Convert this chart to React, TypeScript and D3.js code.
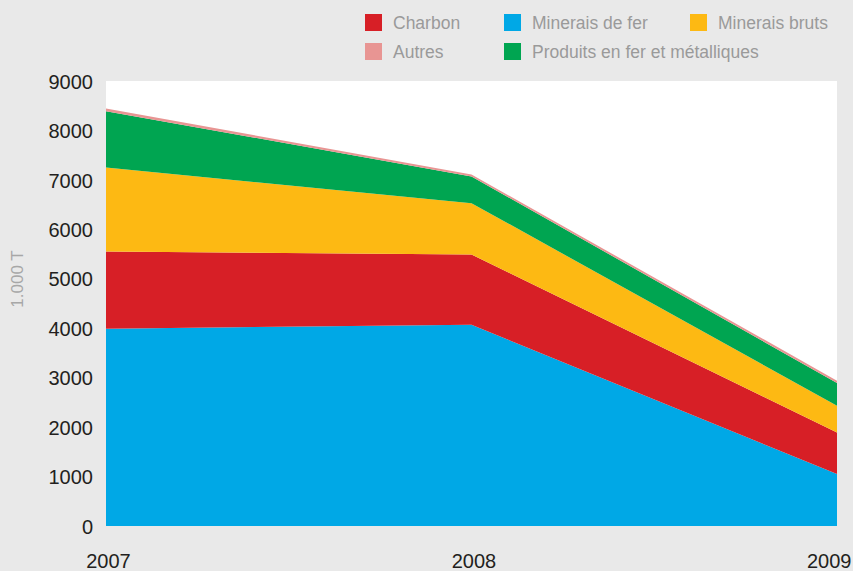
import { useEffect, useRef } from 'react';
import * as d3 from 'd3';

// values in 1.000 T
const years = ['2007', '2008', '2009'];
const mineraisDeFer = [3990, 4070, 1050];
const charbon = [1560, 1420, 840];
const mineraisBruts = [1700, 1040, 540];
const produits = [1140, 540, 460];
const autres = [55, 40, 50];
const yTicks = [0, 1000, 2000, 3000, 4000, 5000, 6000, 7000, 8000, 9000];

const seriesKeys = ['fer', 'charbon', 'bruts', 'produits', 'autres'];
const seriesColors: Record<string, string> = {
    fer: '#00a8e6',
    charbon: '#d71f26',
    bruts: '#fdb913',
    produits: '#00a551',
    autres: '#e89593',
};
const legendItems = [
    { key: 'charbon', label: 'Charbon', col: 0, row: 0 },
    { key: 'fer', label: 'Minerais de fer', col: 1, row: 0 },
    { key: 'bruts', label: 'Minerais bruts', col: 2, row: 0 },
    { key: 'autres', label: 'Autres', col: 0, row: 1 },
    { key: 'produits', label: 'Produits en fer et métalliques', col: 1, row: 1 },
];

interface Row {
    year: string;
    fer: number;
    charbon: number;
    bruts: number;
    produits: number;
    autres: number;
}

const rows: Row[] = years.map((year, i) => ({
    year,
    fer: mineraisDeFer[i],
    charbon: charbon[i],
    bruts: mineraisBruts[i],
    produits: produits[i],
    autres: autres[i],
}));

const FONT = 'Liberation Sans, Arial, sans-serif';

export default function App() {
    const svgRef = useRef<SVGSVGElement>(null);

    useEffect(() => {
        document.body.style.margin = '0';
        if (!svgRef.current) return;

        const svg = d3.select(svgRef.current);
        svg.selectAll('*').remove();

        const width = 853;
        const height = 571;
        const margin = { top: 81, right: 16, bottom: 45, left: 106 };
        const innerWidth = width - margin.left - margin.right;
        const innerHeight = height - margin.top - margin.bottom;

        svg.append('rect')
            .attr('width', width)
            .attr('height', height)
            .attr('fill', '#e9e9e9');

        const g = svg
            .append('g')
            .attr('transform', `translate(${margin.left},${margin.top})`);

        // Scales
        const x = d3
            .scalePoint()
            .domain(years)
            .range([0, innerWidth]);

        const y = d3.scaleLinear().domain([0, 9000]).range([innerHeight, 0]);

        // plot background
        g.append('rect')
            .attr('width', innerWidth)
            .attr('height', innerHeight)
            .attr('fill', '#ffffff');

        // Stacked areas
        const stack = d3.stack<Row>().keys(seriesKeys);
        const layers = stack(rows);

        const area = d3
            .area<d3.SeriesPoint<Row>>()
            .x((d) => x(d.data.year) || 0)
            .y0((d) => y(d[0]))
            .y1((d) => y(d[1]));

        g.selectAll('.layer')
            .data(layers)
            .enter()
            .append('path')
            .attr('class', 'layer')
            .attr('fill', (d) => seriesColors[d.key])
            .attr('d', area);

        // Y axis
        g.append('g')
            .call(
                d3
                    .axisLeft(y)
                    .tickValues(yTicks)
                    .tickFormat(d3.format('d'))
                    .tickSize(0)
                    .tickPadding(13)
            )
            .call((g) => g.select('.domain').remove())
            .call((g) =>
                g
                    .selectAll('.tick text')
                    .attr('fill', '#231f20')
                    .attr('font-family', FONT)
                    .attr('font-size', '20px')
                    .attr('dy', '0.36em')
            );

        // X axis (labels sit right on the bottom edge, as in the source)
        g.append('g')
            .attr('transform', `translate(0,${innerHeight})`)
            .call(d3.axisBottom(x).tickSize(0).tickPadding(34))
            .call((g) => g.select('.domain').remove())
            .call((g) =>
                g
                    .selectAll('.tick text')
                    .attr('fill', '#231f20')
                    .attr('font-family', FONT)
                    .attr('font-size', '20px')
                    .attr('dy', '0.4em')
                    .attr('text-anchor', (_, i) => (i === years.length - 1 ? 'end' : 'middle'))
                    .attr('dx', (_, i) => (i === years.length - 1 ? '14' : '2'))
            );

        // Y title
        svg.append('text')
            .attr('transform', 'translate(23,279) rotate(-90)')
            .attr('text-anchor', 'middle')
            .attr('fill', '#a7a7a7')
            .attr('font-family', FONT)
            .attr('font-size', '17px')
            .text('1.000 T');

        // Legend
        const colX = [365, 504, 690];
        const rowY = [14, 43];
        const legend = svg
            .selectAll('.legend')
            .data(legendItems)
            .enter()
            .append('g')
            .attr('class', 'legend')
            .attr('transform', (d) => `translate(${colX[d.col]},${rowY[d.row]})`);

        legend
            .append('rect')
            .attr('width', 17)
            .attr('height', 17)
            .attr('fill', (d) => seriesColors[d.key]);

        legend
            .append('text')
            .attr('x', 28)
            .attr('y', 15)
            .attr('fill', '#9a9a9a')
            .attr('font-family', FONT)
            .attr('font-size', '17.5px')
            .text((d) => d.label);
    }, []);

    return <svg ref={svgRef} width={853} height={571} style={{ display: 'block' }} />;
}
